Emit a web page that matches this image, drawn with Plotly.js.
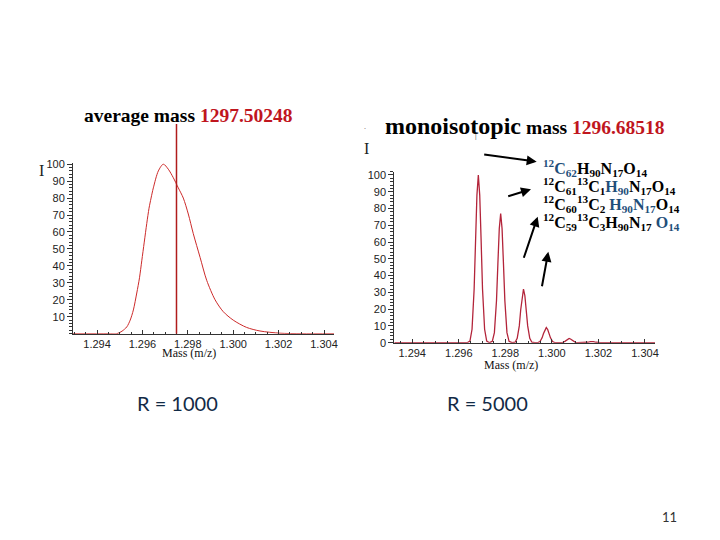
<!DOCTYPE html>
<html>
<head>
<meta charset="utf-8">
<script src="https://cdn.plot.ly/plotly-3.0.1.min.js"></script>
<style>html,body{margin:0;padding:0;background:#fff;}#chart{width:720px;height:540px;}</style>
</head>
<body>
<div id="chart"></div>
<script>
// ---- data (x in thousands of m/z, y relative intensity %) ----
var avgMassValue = [1.2975];
var avgMassLabel = "1297.50248";
var monoMassLabel = "1296.68518";

// R = 1000 profile (left)
var avgProfileMass = [1.29294, 1.2945, 1.29487, 1.2951, 1.29531, 1.29546, 1.2956, 1.29575, 1.29587, 1.29597, 1.29608, 1.29619, 1.29629, 1.29638, 1.29648, 1.2967, 1.29692, 1.29714, 1.29736, 1.29758, 1.2978, 1.29802, 1.29824, 1.29854, 1.29883, 1.2992, 1.29956, 1.3, 1.30059, 1.30118, 1.30206, 1.303, 1.30444];
var avgProfileInt  = [0, 0, 0, 1.5, 4, 8, 14, 24, 33, 43, 54, 65, 74, 80, 86, 96, 100, 97, 92, 86, 80, 70.6, 59, 45, 31.5, 20, 13, 8, 3.7, 1.6, 0.3, 0, 0];

// R = 5000 isotopic peaks (right)
var monoProfileMass = [1.29323,
  1.29636, 1.29648, 1.29657, 1.29666, 1.29672, 1.29678, 1.29684, 1.29690, 1.29696, 1.29702, 1.29711, 1.29720, 1.29732,
  1.29744, 1.29753, 1.29762, 1.29768, 1.29774, 1.29780, 1.29786, 1.29792, 1.29798, 1.29807, 1.29816, 1.29829,
  1.29842, 1.29851, 1.29860, 1.29866, 1.29872, 1.29878, 1.29884, 1.29890, 1.29896, 1.29905, 1.29914, 1.29927,
  1.29940, 1.29949, 1.29958, 1.29964, 1.29970, 1.29976, 1.29982, 1.29988, 1.29994, 1.30003, 1.30012, 1.30025,
  1.30038, 1.30047, 1.30056, 1.30062, 1.30068, 1.30074, 1.30080, 1.30086, 1.30092, 1.30101, 1.30110,
  1.30136, 1.30154, 1.30166, 1.30172, 1.30178, 1.30190, 1.30208,
  1.30443];
var monoProfileInt = [0,
  0, 1, 8, 32, 61, 88, 100, 88, 61, 32, 8, 1, 0,
  0.8, 6, 25, 47, 68, 77, 68, 47, 25, 6, 0.8, 0,
  0.3, 2.6, 10, 19.5, 28, 32, 28, 19.5, 10, 2.6, 0.3, 0,
  0.1, 0.7, 2.9, 5.5, 7.9, 9, 7.9, 5.5, 2.9, 0.7, 0.1, 0,
  0, 0.2, 0.8, 1.5, 2.2, 2.5, 2.2, 1.5, 0.8, 0.2, 0,
  0, 0.26, 0.7, 0.8, 0.7, 0.26, 0,
  0];

var xTickVals = [1.294, 1.296, 1.298, 1.300, 1.302, 1.304];
var xTickText = ["1.294", "1.296", "1.298", "1.300", "1.302", "1.304"];
var leftYTicks = [10, 20, 30, 40, 50, 60, 70, 80, 90, 100];
var rightYTicks = [0, 10, 20, 30, 40, 50, 60, 70, 80, 90, 100];

var formulaLines = [
  "<span style='color:#1f4f7a'><sup>12</sup>C<sub>62</sub></span>H<sub>90</sub>N<sub>17</sub>O<sub>14</sub>",
  "<sup>12</sup>C<sub>61</sub><sup>13</sup>C<sub>1</sub><span style='color:#1f4f7a'>H<sub>90</sub></span>N<sub>17</sub>O<sub>14</sub>",
  "<sup>12</sup>C<sub>60</sub><sup>13</sup>C<sub>2</sub> <span style='color:#1f4f7a'>H<sub>90</sub>N<sub>17</sub></span>O<sub>14</sub>",
  "<sup>12</sup>C<sub>59</sub><sup>13</sup>C<sub>3</sub>H<sub>90</sub>N<sub>17</sub> <span style='color:#1f4f7a'>O<sub>14</sub></span>"
];

// ---- layout helpers (pixel -> paper) ----
function px(x) { return x / 720; }
function py(y) { return 1 - y / 540; }

var tickFont = {family: "Liberation Sans, Arial, sans-serif", size: 11, color: "#222"};
function xAxis(domain, range) {
  return {
    domain: domain, range: range, showline: true, linecolor: "#333", linewidth: 1,
    ticks: "inside", ticklen: 4, tickcolor: "#333", tickvals: xTickVals, ticktext: xTickText,
    tickfont: tickFont, showgrid: false, zeroline: false,
    minor: {ticks: "inside", ticklen: 2, tickcolor: "#333", dtick: 0.0005, tick0: 1.294, showgrid: false}
  };
}
function yAxis(domain, range, ticks, anchor) {
  return {
    domain: domain, range: range, anchor: anchor, showline: true, linecolor: "#333", linewidth: 1,
    ticks: "outside", ticklen: 5, tickcolor: "#333", tickvals: ticks, tickfont: tickFont,
    showgrid: false, zeroline: false,
    minor: {ticks: "outside", ticklen: 3, tickcolor: "#333", dtick: 2, tick0: 0, showgrid: false}
  };
}

var traces = [
  {x: avgProfileMass, y: avgProfileInt, xaxis: "x", yaxis: "y", type: "scatter", mode: "lines",
   line: {color: "#cc2a2a", width: 1, shape: "spline", smoothing: 0.8}, hoverinfo: "skip"},
  {x: monoProfileMass, y: monoProfileInt, xaxis: "x2", yaxis: "y2", type: "scatter", mode: "lines",
   line: {color: "#b3243a", width: 1.3}, hoverinfo: "skip"}
];

var serif = "Liberation Serif, Times New Roman, serif";
var annotations = [
  {xref: "paper", yref: "paper", x: px(188.5), y: py(116), xanchor: "center", yanchor: "middle", showarrow: false,
   text: "<b>average mass <span style='color:#c0161e'>" + avgMassLabel + "</span></b>",
   font: {family: serif, size: 19.5, color: "#000"}},
  {xref: "paper", yref: "paper", x: px(525), y: py(126), xanchor: "center", yanchor: "middle", showarrow: false,
   text: "<b><span style='font-size:24px'>monoisotopic</span> mass <span style='color:#c0161e'>" + monoMassLabel + "</span></b>",
   font: {family: serif, size: 19.5, color: "#000"}},
  {xref: "paper", yref: "paper", x: px(189), y: py(353), xanchor: "center", yanchor: "middle", showarrow: false,
   text: "Mass (m/z)", font: {family: serif, size: 12, color: "#111"}},
  {xref: "paper", yref: "paper", x: px(511), y: py(365), xanchor: "center", yanchor: "middle", showarrow: false,
   text: "Mass (m/z)", font: {family: serif, size: 12, color: "#111"}},
  {xref: "paper", yref: "paper", x: px(177.5), y: py(403), xanchor: "center", yanchor: "middle", showarrow: false,
   text: "R = 1000", font: {family: "Lato, Carlito, sans-serif", size: 20, color: "#112a46"}},
  {xref: "paper", yref: "paper", x: px(487.5), y: py(403), xanchor: "center", yanchor: "middle", showarrow: false,
   text: "R = 5000", font: {family: "Lato, Carlito, sans-serif", size: 20, color: "#112a46"}},
  {xref: "paper", yref: "paper", x: px(669), y: py(517), xanchor: "center", yanchor: "middle", showarrow: false,
   text: "11", font: {family: "Lato, sans-serif", size: 13, color: "#333"}},
  {xref: "paper", yref: "paper", x: px(41), y: py(170), xanchor: "center", yanchor: "middle", showarrow: false,
   text: "I", font: {family: serif, size: 16, color: "#222"}},
  {xref: "paper", yref: "paper", x: px(366), y: py(148), xanchor: "center", yanchor: "middle", showarrow: false,
   text: "I", font: {family: serif, size: 16, color: "#222"}},
  {xref: "paper", yref: "paper", x: px(365), y: py(126), xanchor: "center", yanchor: "middle", showarrow: false,
   text: ".", font: {family: serif, size: 8, color: "#555"}},
  {xref: "paper", yref: "paper", x: px(476), y: py(136), xanchor: "center", yanchor: "middle", showarrow: false,
   text: "|", font: {family: serif, size: 8, color: "#222"}}
];
var formulaY = [168, 186, 204, 222];
for (var i = 0; i < formulaLines.length; i++) {
  annotations.push({xref: "paper", yref: "paper", x: px(541), y: py(formulaY[i]), xanchor: "left", yanchor: "middle",
    showarrow: false, text: "<b>" + formulaLines[i] + "</b>", font: {family: serif, size: 16, color: "#000"}});
}
var arrows = [[536.7, 161.7, 482.7, 154.3], [531, 189.3, 506.7, 196.7], [537.7, 216.7, 523.3, 259.3], [548.3, 251.7, 541.7, 287.7]];
arrows.forEach(function (a) {
  annotations.push({xref: "paper", yref: "paper", x: px(a[0]), y: py(a[1]), ax: a[2] - a[0], ay: a[3] - a[1],
    text: "", showarrow: true, arrowhead: 2, arrowsize: 1, arrowwidth: 2, arrowcolor: "#000"});
});

var layout = {
  width: 720, height: 540, margin: {l: 0, r: 0, t: 0, b: 0}, showlegend: false,
  paper_bgcolor: "#fff", plot_bgcolor: "rgba(0,0,0,0)",
  xaxis: xAxis([px(73), px(334)], [1.29294, 1.30444]),
  yaxis: yAxis([py(333.7), py(163.3)], [0, 100.5], leftYTicks, "x"),
  xaxis2: Object.assign(xAxis([px(394.3), px(655)], [1.29323, 1.30443]), {anchor: "y2"}),
  yaxis2: yAxis([py(342.7), py(171.6)], [0, 102], rightYTicks, "x2"),
  shapes: [
    {type: "line", xref: "x", yref: "paper", x0: avgMassValue[0], x1: avgMassValue[0], y0: py(333.7), y1: py(124),
     line: {color: "#b01c1c", width: 1.5}}
  ],
  annotations: annotations
};
layout.xaxis.anchor = "y";

Plotly.newPlot("chart", traces, layout, {displayModeBar: false, staticPlot: true});
</script>
</body>
</html>
